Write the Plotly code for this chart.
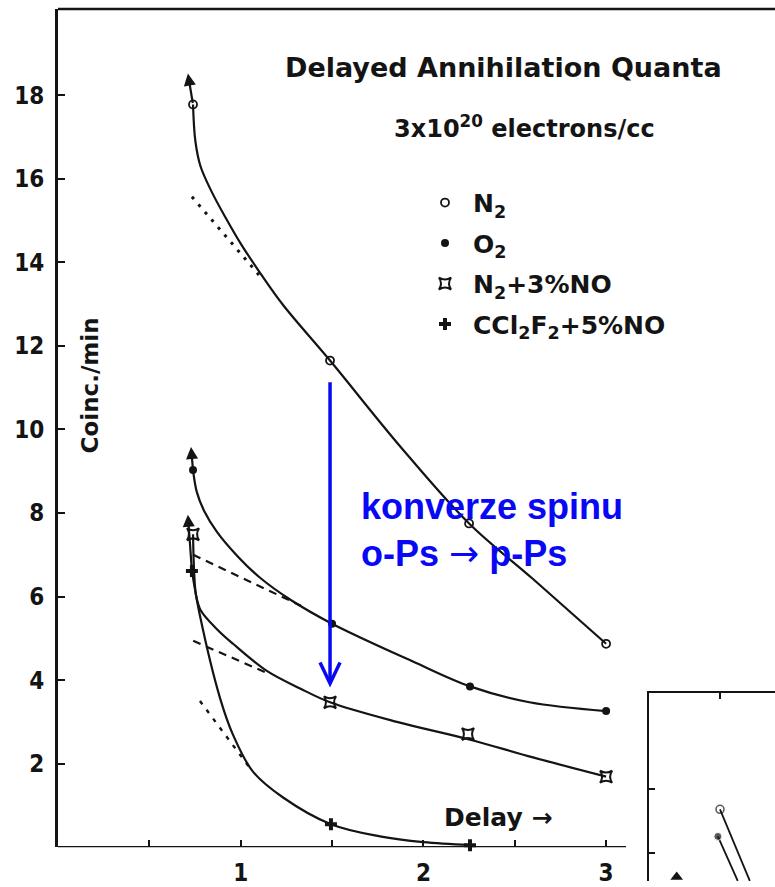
import plotly.graph_objects as go

# ---------------- data ----------------
# measured points (markers)
N2_X = [0.739, 1.489, 2.25, 3.0]
N2_Y = [17.78, 11.65, 7.75, 4.87]
O2_X = [0.739, 1.50, 2.255, 3.0]
O2_Y = [9.03, 5.35, 3.85, 3.26]
NO3_X = [0.739, 1.489, 2.244, 3.0]
NO3_Y = [7.49, 3.47, 2.71, 1.69]
CCL_X = [0.733, 1.494, 2.255]
CCL_Y = [6.61, 0.55, 0.05]

# hand-drawn curves (traced points)
N2_CURVE_X = [0.739, 0.752, 0.78, 0.84, 0.92, 1.0, 1.106, 1.232, 1.489, 1.872, 2.25, 2.6, 3.0]
N2_CURVE_Y = [17.78, 16.9, 16.3, 15.7, 15.05, 14.45, 13.75, 12.98, 11.65, 9.6, 7.75, 6.42, 4.87]
O2_CURVE_X = [0.739, 0.76, 0.80, 0.87, 0.98, 1.106, 1.27, 1.50, 1.94, 2.255, 2.58, 3.0]
O2_CURVE_Y = [9.03, 8.5, 8.05, 7.55, 6.98, 6.45, 5.93, 5.35, 4.45, 3.85, 3.47, 3.26]
NO3_CURVE_X = [0.739, 0.745, 0.755, 0.78, 0.87, 0.958, 1.143, 1.325, 1.489, 1.855, 2.25, 2.6, 3.0]
NO3_CURVE_Y = [7.49, 6.6, 6.05, 5.68, 5.22, 4.87, 4.22, 3.80, 3.47, 3.00, 2.58, 2.15, 1.69]
CCL_CURVE_X = [0.733, 0.777, 0.887, 0.958, 1.067, 1.232, 1.494, 1.762, 2.0, 2.255]
CCL_CURVE_Y = [6.61, 5.54, 3.57, 2.69, 1.81, 1.19, 0.55, 0.26, 0.12, 0.05]

# extrapolated straight lines (start/end)
N2_EXT_X = [0.733, 1.10]
N2_EXT_Y = [15.57, 13.7]
O2_EXT_X = [0.74, 1.33]
O2_EXT_Y = [7.0, 5.78]
NO3_EXT_X = [0.74, 1.15]
NO3_EXT_Y = [4.94, 4.16]
CCL_EXT_X = [0.777, 1.05]
CCL_EXT_Y = [3.50, 1.90]

# arrows above the first points (tips)
ARROW_TIP_X = [0.711, 0.728, 0.711]
ARROW_TIP_Y = [18.52, 9.58, 7.96]
ARROW_TAIL_X = [N2_X[0], O2_X[0], CCL_X[0]]
ARROW_TAIL_Y = [N2_Y[0], O2_Y[0], CCL_Y[0]]

# blue annotation arrow (x, top, tip)
BLUE_X = 1.489
BLUE_Y_TOP = 11.13
BLUE_Y_TIP = 3.92

# partially visible inset chart
INSET_A_X = [1.0, 1.42]
INSET_A_Y = [1.68, 0.57]
INSET_B_X = [0.97, 1.25]
INSET_B_Y = [1.26, 0.57]
INSET_TRI_X = [0.39]
INSET_TRI_Y = [0.63]

Y_TICKS = [2, 4, 6, 8, 10, 12, 14, 16, 18]
X_TICKS = [0.5, 1, 1.5, 2, 2.5, 3]
X_TICKTEXT = ["", "1", "", "2", "", "3"]

# ---------------- figure ----------------
W, H = 775, 887
BLACK = "#141414"
BLUE = "rgb(8,8,245)"
HAND = "DejaVu Sans"
LW = 2.2


def px(xp):
    return xp / W


def py(yp):
    return 1 - yp / H


fig = go.Figure()

curves = [
    (N2_CURVE_X, N2_CURVE_Y),
    (O2_CURVE_X, O2_CURVE_Y),
    (NO3_CURVE_X, NO3_CURVE_Y),
    (CCL_CURVE_X, CCL_CURVE_Y),
]
for cx, cy in curves:
    fig.add_trace(go.Scatter(x=cx, y=cy, mode="lines", showlegend=False,
                             line=dict(color=BLACK, width=LW, shape="spline", smoothing=1.0),
                             hoverinfo="skip"))

exts = [
    (N2_EXT_X, N2_EXT_Y, "3px,7px", 3),
    (O2_EXT_X, O2_EXT_Y, "8px,6px", 2.2),
    (NO3_EXT_X, NO3_EXT_Y, "8px,6px", 2.2),
    (CCL_EXT_X, CCL_EXT_Y, "4px,7px", 2.4),
]
for ex, ey, dash, w in exts:
    fig.add_trace(go.Scatter(x=ex, y=ey, mode="lines", showlegend=False,
                             line=dict(color=BLACK, width=w, dash=dash), hoverinfo="skip"))

series = [
    (N2_X, N2_Y, "N<sub>2</sub>", dict(symbol="circle-open", size=8, color=BLACK, line=dict(width=1.8))),
    (O2_X, O2_Y, "O<sub>2</sub>", dict(symbol="circle", size=8, color=BLACK)),
    (NO3_X, NO3_Y, "N<sub>2</sub>+3%NO", dict(symbol="star-square-open", size=11, color=BLACK, line=dict(width=2))),
    (CCL_X, CCL_Y, "CCl<sub>2</sub>F<sub>2</sub>+5%NO", dict(symbol="cross", size=10, color=BLACK)),
]
for i, (sx, sy, name, mk) in enumerate(series):
    fig.add_trace(go.Scatter(x=sx, y=sy, mode="markers", name=name, showlegend=False,
                             marker=mk, cliponaxis=False))
    # legend-only entry
    fig.add_trace(go.Scatter(x=[None], y=[None], mode="markers", name=name, legendgroup=f"g{i}",
                             marker=mk, showlegend=True))

# inset chart
fig.add_trace(go.Scatter(x=INSET_A_X, y=INSET_A_Y, mode="lines+markers", xaxis="x2", yaxis="y2",
                         showlegend=False, line=dict(color=BLACK, width=1.8),
                         marker=dict(symbol="circle-open", size=[8, 0], color=BLACK, line=dict(width=1.6)),
                         cliponaxis=True))
fig.add_trace(go.Scatter(x=INSET_B_X, y=INSET_B_Y, mode="lines+markers", xaxis="x2", yaxis="y2",
                         showlegend=False, line=dict(color=BLACK, width=1.8),
                         marker=dict(symbol="circle", size=[8, 0], color=BLACK), cliponaxis=True))
fig.add_trace(go.Scatter(x=INSET_TRI_X, y=INSET_TRI_Y, mode="markers", xaxis="x2", yaxis="y2",
                         showlegend=False, marker=dict(symbol="triangle-up", size=11, color=BLACK),
                         cliponaxis=True))

# ---------------- layout ----------------
X0P, X1P = 58, 775      # main plot area pixels
YTOP, YBOT = 9, 853
XUNIT, YUNIT = 182.7, 42.06

tickfont = dict(family="DejaVu Sans Condensed, DejaVu Sans", size=24, color=BLACK, weight="bold")

fig.update_layout(
    width=W, height=H,
    margin=dict(l=0, r=0, t=0, b=0),
    paper_bgcolor="white", plot_bgcolor="white",
    xaxis=dict(domain=[px(X0P), 1], range=[0, (X1P - X0P) / XUNIT],
               showgrid=False, zeroline=False, showline=False,
               tickvals=X_TICKS, ticktext=X_TICKTEXT, ticks="inside", ticklen=7,
               tickwidth=2, tickcolor=BLACK, tickfont=tickfont, ticklabelstandoff=9),
    yaxis=dict(domain=[1 - YBOT / H, 1 - YTOP / H], range=[0, (YBOT - YTOP) / YUNIT],
               showgrid=False, zeroline=False, showline=True, linecolor=BLACK, linewidth=2.6,
               tickvals=Y_TICKS, ticks="inside", ticklen=7, tickwidth=2, tickcolor=BLACK,
               tickfont=tickfont, ticklabelstandoff=6),
    xaxis2=dict(domain=[px(649), 1], range=[0, 126 / 71], anchor="y2", side="top",
                showgrid=False, zeroline=False, showline=True, linecolor=BLACK, linewidth=2.4,
                tickvals=[1], ticks="inside", ticklen=6, tickwidth=1.5, tickcolor=BLACK,
                showticklabels=False),
    yaxis2=dict(domain=[0, (H - 698) / H], range=[1 - 28 / 65, 1 + 161 / 65], anchor="x2",
                showgrid=False, zeroline=False, showline=True, linecolor=BLACK, linewidth=2.4,
                tickvals=[1, 2], ticks="inside", ticklen=6, tickwidth=1.5, tickcolor=BLACK,
                showticklabels=False),
    legend=dict(x=px(417), y=py(181), xanchor="left", yanchor="top",
                font=dict(family=HAND, size=25, color=BLACK, weight="bold"),
                bgcolor="rgba(0,0,0,0)", tracegroupgap=5, itemwidth=46),
    showlegend=True,
)

shapes = [
    # bottom axis line (stops at ~3.1)
    dict(type="line", xref="x", yref="y", x0=0, x1=(626 - X0P) / XUNIT, y0=0, y1=0,
         line=dict(color=BLACK, width=2.6)),
    # top frame line
    dict(type="line", xref="paper", yref="paper", x0=px(X0P), x1=1, y0=1 - YTOP / H, y1=1 - YTOP / H,
         line=dict(color=BLACK, width=2.6)),
    # blue arrow shaft
    dict(type="line", xref="x", yref="y", x0=BLUE_X, x1=BLUE_X, y0=BLUE_Y_TOP, y1=BLUE_Y_TIP + 0.05,
         line=dict(color=BLUE, width=3.5)),
    # blue arrow head (open V)
    dict(type="path", xref="x", yref="y",
         path=f"M {BLUE_X - 10 / XUNIT},{BLUE_Y_TIP + 21 / YUNIT} L {BLUE_X},{BLUE_Y_TIP} "
              f"L {BLUE_X + 10 / XUNIT},{BLUE_Y_TIP + 21 / YUNIT}",
         line=dict(color=BLUE, width=3.5)),
]
fig.update_layout(shapes=shapes)

ann = []
for tx, ty, sx, sy in zip(ARROW_TIP_X, ARROW_TIP_Y, ARROW_TAIL_X, ARROW_TAIL_Y):
    ann.append(dict(x=tx, y=ty, ax=sx, ay=sy, xref="x", yref="y", axref="x", ayref="y",
                    text="", showarrow=True, arrowhead=2, arrowsize=1.1, arrowwidth=2.2,
                    arrowcolor=BLACK))

ann += [
    dict(text="Delayed Annihilation Quanta", x=px(503), y=py(68), xref="paper", yref="paper",
         xanchor="center", yanchor="middle", showarrow=False,
         font=dict(family=HAND, size=27, color=BLACK, weight="bold")),
    dict(text="3x10<sup>20</sup> electrons/cc", x=px(524), y=py(128), xref="paper", yref="paper",
         xanchor="center", yanchor="middle", showarrow=False,
         font=dict(family=HAND, size=24, color=BLACK, weight="bold")),
    dict(text="Coinc./min", x=px(90), y=py(388), xref="paper", yref="paper", textangle=-90,
         xanchor="center", yanchor="middle", showarrow=False,
         font=dict(family=HAND, size=23, color=BLACK, weight="bold")),
    dict(text="Delay \u2192", x=px(498), y=py(823), xref="paper", yref="paper",
         xanchor="center", yanchor="middle", showarrow=False,
         font=dict(family=HAND, size=25, color=BLACK, weight="bold")),
    dict(text="konverze spinu<br>o-Ps <span style=\"font-family:'DejaVu Sans';font-weight:normal\">\u2192</span> p-Ps",
         x=px(359), y=py(534), xref="paper", yref="paper",
         xanchor="left", yanchor="middle", align="left", showarrow=False,
         font=dict(family="Liberation Sans, Arial", size=36, color=BLUE, weight="bold")),
]
fig.update_layout(annotations=ann)

fig.write_html("out.html")
